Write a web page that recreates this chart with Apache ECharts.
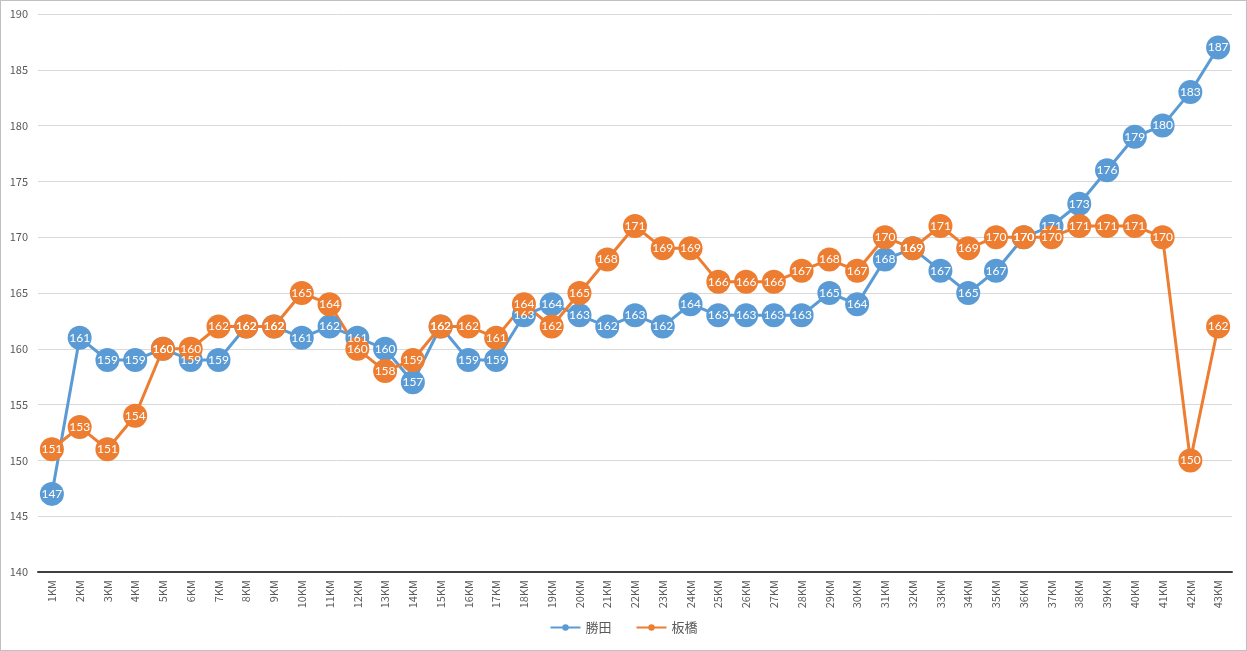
<!DOCTYPE html>
<html><head><meta charset="utf-8">
<script src="https://cdn.jsdelivr.net/npm/echarts@6/dist/echarts.min.js"></script>
<style>
html,body{margin:0;padding:0;background:#fff;}
#c{width:1245px;height:649px;border:1px solid #c0c0c0;}
</style></head>
<body><div id="c"></div>
<script>
const categories = ['1KM','2KM','3KM','4KM','5KM','6KM','7KM','8KM','9KM','10KM','11KM','12KM','13KM','14KM','15KM','16KM','17KM','18KM','19KM','20KM','21KM','22KM','23KM','24KM','25KM','26KM','27KM','28KM','29KM','30KM','31KM','32KM','33KM','34KM','35KM','36KM','37KM','38KM','39KM','40KM','41KM','42KM','43KM'];
const katsuta = [147,161,159,159,160,159,159,162,162,161,162,161,160,157,162,159,159,163,164,163,162,163,162,164,163,163,163,163,165,164,168,169,167,165,167,170,171,173,176,179,180,183,187];
const itabashi = [151,153,151,154,160,160,162,162,162,165,164,160,158,159,162,162,161,164,162,165,168,171,169,169,166,166,166,167,168,167,170,169,171,169,170,170,170,171,171,171,170,150,162];
const yTicks = {min:140, max:190, interval:5};

const chart = echarts.init(document.getElementById('c'));
const fontFam = '"Noto Sans CJK JP","Noto Sans",sans-serif';
function mk(name, data, color){
  return {
    name, type:'line', data,
    symbol:'circle', symbolSize:24,
    lineStyle:{width:3, color},
    itemStyle:{color},
    label:{show:true, position:'inside', color:'#fff', fontSize:12, fontFamily:'Lato,sans-serif'},
    emphasis:{disabled:true}, animation:false
  };
}
chart.setOption({
  animation:false,
  textStyle:{fontFamily:fontFam},
  grid:{left:37, right:14, top:13, bottom:78},
  legend:{
    bottom:11, left:'center', itemWidth:30, itemHeight:8, itemGap:24,
    textStyle:{color:'#595959', fontSize:13},
    data:['勝田','板橋']
  },
  xAxis:{
    type:'category', data:categories, boundaryGap:true,
    axisLine:{lineStyle:{color:'#404040', width:2}},
    axisTick:{show:false},
    axisLabel:{rotate:90, color:'#595959', fontSize:11, interval:0, margin:8}
  },
  yAxis:{
    type:'value', min:yTicks.min, max:yTicks.max, interval:yTicks.interval,
    axisLine:{show:false}, axisTick:{show:false},
    splitLine:{lineStyle:{color:'#d9d9d9'}},
    axisLabel:{color:'#595959', fontSize:11, margin:10}
  },
  series:[mk('勝田', katsuta, '#5B9BD5'), mk('板橋', itabashi, '#ED7D31')]
});
</script></body></html>
